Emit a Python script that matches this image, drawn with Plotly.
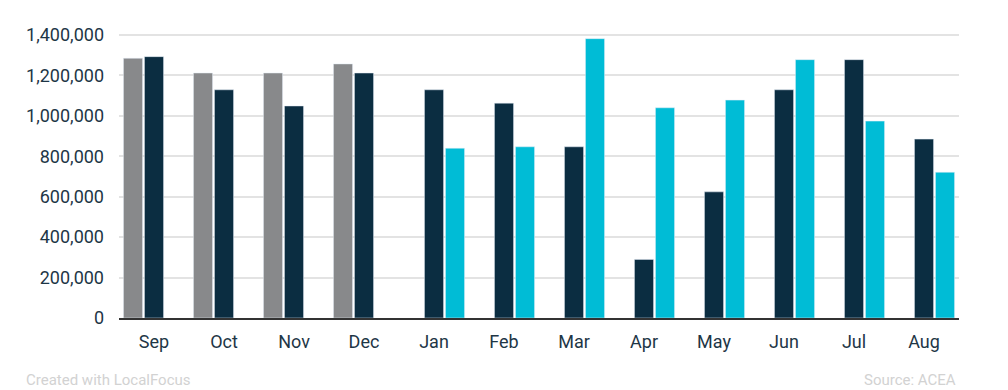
import plotly.graph_objects as go

months = ["Sep", "Oct", "Nov", "Dec", "Jan", "Feb", "Mar", "Apr", "May", "Jun", "Jul", "Aug"]
series_2019 = [1285000, 1212000, 1212000, 1257000, None, None, None, None, None, None, None, None]
series_2020 = [1293000, 1129000, 1049000, 1212000, 1129000, 1063000, 847000, 290000, 624000, 1129000, 1278000, 885000]
series_2021 = [None, None, None, None, 840000, 847000, 1382000, 1040000, 1078000, 1278000, 974000, 721000]
tick_vals = [0, 200000, 400000, 600000, 800000, 1000000, 1200000, 1400000]

# figure is drawn with the page's 8px body margin, so sizes compensate for it
W, H = 1000, 382
L, R, T, B = 111, 49, 26, 72

fig = go.Figure()
fig.add_bar(x=months, y=series_2019, marker_color="#88898b", name="2019")
fig.add_bar(x=months, y=series_2020, marker_color="#0b2d41", name="2020")
fig.add_bar(x=months, y=series_2021, marker_color="#00bcd6", name="2021")

pw = W - L - R
ph = H - T - B


def px_to_paper(px, py):
    return (px - L) / pw, (H - B - py) / ph


ax1, ay1 = px_to_paper(16, 372)
ax2, ay2 = px_to_paper(950, 372)

fig.update_layout(
    width=W, height=H,
    margin=dict(l=L, r=R, t=T, b=B),
    paper_bgcolor="white", plot_bgcolor="white",
    barmode="group", bargap=0.1, bargroupgap=0.09,
    showlegend=False,
    font=dict(family="Roboto", size=18, color="#1e3646"),
    xaxis=dict(
        type="category", range=[-0.5, 11.5],
        showline=True, linecolor="#333333", linewidth=2,
        ticks="", showgrid=False, ticklabelstandoff=6,
        tickfont=dict(size=18, color="#1e3646"),
    ),
    yaxis=dict(
        range=[0, 1405000], tickvals=tick_vals, tickformat=",",
        showgrid=True, gridcolor="#e3e3e3", gridwidth=1.5,
        zeroline=False, showline=False, ticks="", ticklabelstandoff=14,
        tickfont=dict(size=18, color="#1e3646"),
    ),
    annotations=[
        dict(text="Created with LocalFocus", x=ax1, y=ay1, xref="paper", yref="paper",
             showarrow=False, font=dict(size=15, color="#d2d2d2"), xanchor="left", yanchor="middle"),
        dict(text="Source: ACEA", x=ax2, y=ay2, xref="paper", yref="paper",
             showarrow=False, font=dict(size=15, color="#d2d2d2"), xanchor="right", yanchor="middle"),
    ],
)

fig.write_html("out.html")
